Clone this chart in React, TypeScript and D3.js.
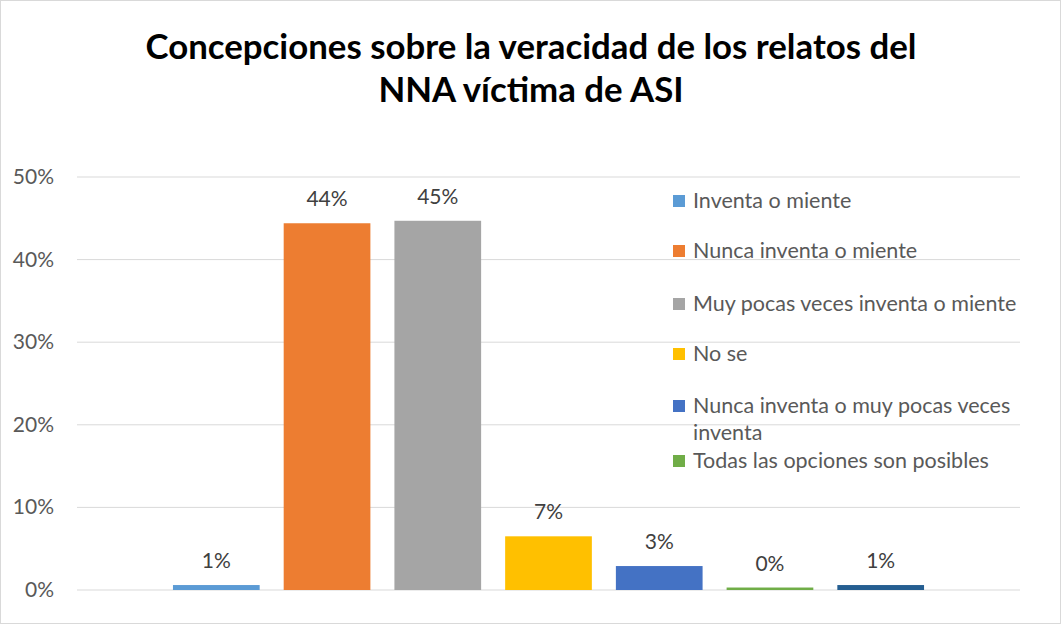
import { useRef, useEffect } from "react";
import * as d3 from "d3";

const seriesNames = [
  "Inventa o miente",
  "Nunca inventa o miente",
  "Muy pocas veces inventa o miente",
  "No se",
  "Nunca inventa o muy pocas veces inventa",
  "Todas las opciones son posibles",
  "Otra respuesta",
];
const seriesValues = [0.6, 44.4, 44.7, 6.5, 2.9, 0.3, 0.6];
const seriesLabels = ["1%", "44%", "45%", "7%", "3%", "0%", "1%"];
const seriesColors = ["#5b9bd5", "#ed7d31", "#a5a5a5", "#ffc000", "#4472c4", "#70ad47", "#255e91"];
const yTicks = [0, 10, 20, 30, 40, 50];
const legendCount = 6;

const titleLines = ["Concepciones sobre la veracidad de los relatos del", "NNA víctima de ASI"];

export default function App() {
  const svgRef = useRef<SVGSVGElement>(null);

  useEffect(() => {
    const svg = d3.select(svgRef.current);
    svg.selectAll("*").remove();

    const width = 1061;
    const height = 625;
    const margin = { top: 177, right: 41, bottom: 35, left: 77 };
    const font = "Lato, 'Open Sans', sans-serif";

    // chart frame
    svg.append("rect")
      .attr("x", 0.5).attr("y", 0.5)
      .attr("width", width - 1).attr("height", height - 2)
      .attr("fill", "#fff").attr("stroke", "#d9d9d9");

    // title
    svg.append("g")
      .selectAll("text")
      .data(titleLines)
      .join("text")
      .attr("x", 531)
      .attr("y", (d, i) => 59 + i * 43)
      .attr("text-anchor", "middle")
      .attr("font-family", font)
      .attr("font-weight", "bold")
      .attr("font-size", 34.8)
      .attr("fill", "#000")
      .text(d => d);

    const y = d3.scaleLinear()
      .domain([0, 50])
      .range([height - margin.bottom, margin.top]);

    // single category, series form the cluster
    const plotL = margin.left;
    const plotR = width - margin.right;
    const x = d3.scaleBand<string>()
      .domain(seriesNames)
      .range([plotL + 84, plotR - 84])
      .paddingInner(0.217)
      .paddingOuter(0.108);

    // gridlines
    svg.append("g")
      .selectAll("line")
      .data(yTicks)
      .join("line")
      .attr("x1", plotL).attr("x2", plotR)
      .attr("y1", d => y(d)).attr("y2", d => y(d))
      .attr("stroke", "#d9d9d9")
      .attr("stroke-width", 1);

    // y tick labels
    svg.append("g")
      .selectAll("text")
      .data(yTicks)
      .join("text")
      .attr("x", 54)
      .attr("y", d => y(d) + 7)
      .attr("text-anchor", "end")
      .attr("font-family", font)
      .attr("font-size", 21)
      .attr("fill", "#595959")
      .text(d => d + "%");

    // bars
    svg.append("g")
      .selectAll("rect")
      .data(seriesNames)
      .join("rect")
      .attr("x", d => x(d)!)
      .attr("width", x.bandwidth())
      .attr("y", (d, i) => y(seriesValues[i]))
      .attr("height", (d, i) => y(0) - y(seriesValues[i]))
      .attr("fill", (d, i) => seriesColors[i]);

    // data labels
    svg.append("g")
      .selectAll("text")
      .data(seriesNames)
      .join("text")
      .attr("x", d => x(d)! + x.bandwidth() / 2)
      .attr("y", (d, i) => y(seriesValues[i]) - 17)
      .attr("text-anchor", "middle")
      .attr("font-family", font)
      .attr("font-size", 21)
      .attr("fill", "#404040")
      .text((d, i) => seriesLabels[i]);

    // legend (last series doesn't fit)
    const legendY = [201, 251, 304, 354, 406, 461];
    const legend = svg.append("g");
    seriesNames.slice(0, legendCount).forEach((name, i) => {
      legend.append("rect")
        .attr("x", 673).attr("y", legendY[i] - 6)
        .attr("width", 12).attr("height", 12)
        .attr("fill", seriesColors[i]);
      const t = legend.append("text")
        .attr("x", 693)
        .attr("y", legendY[i] + 7)
        .attr("font-family", font)
        .attr("font-size", 21.5)
        .attr("fill", "#595959");
      // wrap to the legend box width
      const words = name.split(" ");
      let line: string[] = [];
      let tspan = t.append("tspan").attr("x", 693).attr("dy", 0);
      words.forEach(w => {
        line.push(w);
        tspan.text(line.join(" "));
        if ((tspan.node() as SVGTSpanElement).getComputedTextLength() > 332 && line.length > 1) {
          line.pop();
          tspan.text(line.join(" "));
          line = [w];
          tspan = t.append("tspan").attr("x", 693).attr("dy", 27).text(w);
        }
      });
    });
  }, []);

  return (
    <svg
      ref={svgRef}
      width={1061}
      height={625}
      style={{ display: "block", position: "absolute", left: 0, top: 0 }}
    />
  );
}
